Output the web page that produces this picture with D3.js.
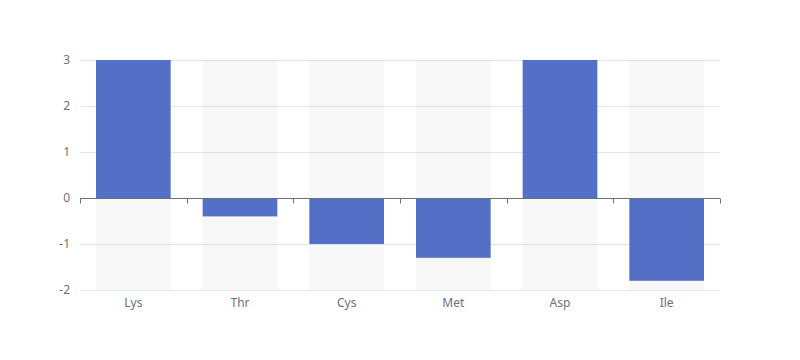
<!DOCTYPE html>
<html>
<head>
<meta charset="utf-8">
<script src="https://cdn.jsdelivr.net/npm/d3@7"></script>
<style>
  body { margin: 0; background: #fff; }
  text { font-family: "Noto Sans", "DejaVu Sans", sans-serif; }
</style>
</head>
<body>
<script>
// categories and values (Lys and Asp run past the axis max and get clipped)
var categories = ["Lys", "Thr", "Cys", "Met", "Asp", "Ile"];
var values = [3.6, -0.4, -1.0, -1.3, 3.8, -1.8];
var yTicks = [-2, -1, 0, 1, 2, 3];

var width = 800, height = 360;
var margin = {top: 60, right: 80, bottom: 70, left: 80};

var svg = d3.select("body").append("svg")
  .attr("width", width)
  .attr("height", height);

var x = d3.scaleBand()
  .domain(categories)
  .range([margin.left, width - margin.right]);

var y = d3.scaleLinear()
  .domain([-2, 3])
  .range([height - margin.bottom, margin.top]);

var barW = x.bandwidth() * 0.7;

// split lines
svg.selectAll(".grid")
  .data(yTicks)
  .enter().append("line")
  .attr("x1", margin.left)
  .attr("x2", width - margin.right)
  .attr("y1", function(d) { return Math.round(y(d)) + 0.5; })
  .attr("y2", function(d) { return Math.round(y(d)) + 0.5; })
  .attr("stroke", "#e0e6f1");

// bar backgrounds, see-through so the split lines still show
svg.selectAll(".bg")
  .data(categories)
  .enter().append("rect")
  .attr("x", function(d) { return x(d) + (x.bandwidth() - barW) / 2; })
  .attr("y", y(3))
  .attr("width", barW)
  .attr("height", y(-2) - y(3))
  .attr("fill", "rgba(180,180,180,0.1)");

svg.append("clipPath").attr("id", "clip")
  .append("rect")
  .attr("x", margin.left)
  .attr("y", margin.top)
  .attr("width", width - margin.left - margin.right)
  .attr("height", height - margin.top - margin.bottom);

// bars
svg.append("g").attr("clip-path", "url(#clip)")
  .selectAll("rect")
  .data(values)
  .enter().append("rect")
  .attr("x", function(d, i) { return x(categories[i]) + (x.bandwidth() - barW) / 2; })
  .attr("y", function(d) { return y(Math.max(0, d)); })
  .attr("width", barW)
  .attr("height", function(d) { return Math.abs(y(d) - y(0)); })
  .attr("fill", "#5470c6");

// y labels
svg.selectAll(".ylab")
  .data(yTicks)
  .enter().append("text")
  .attr("x", margin.left - 10)
  .attr("y", function(d) { return y(d); })
  .attr("dy", "0.35em")
  .attr("text-anchor", "end")
  .attr("font-size", 12)
  .attr("fill", "#6e7079")
  .text(function(d) { return d; });

// x axis on zero
var zeroY = Math.round(y(0)) + 0.5;
svg.append("line")
  .attr("x1", margin.left)
  .attr("x2", width - margin.right)
  .attr("y1", zeroY)
  .attr("y2", zeroY)
  .attr("stroke", "#6e7079");

var tickXs = categories.map(function(d) { return x(d); }).concat([width - margin.right]);
svg.selectAll(".tick")
  .data(tickXs)
  .enter().append("line")
  .attr("x1", function(d) { return Math.round(d) + 0.5; })
  .attr("x2", function(d) { return Math.round(d) + 0.5; })
  .attr("y1", zeroY)
  .attr("y2", zeroY + 5)
  .attr("stroke", "#6e7079");

// x labels below the grid
svg.selectAll(".xlab")
  .data(categories)
  .enter().append("text")
  .attr("x", function(d) { return x(d) + x.bandwidth() / 2; })
  .attr("y", y(-2) + 13)
  .attr("dy", "0.35em")
  .attr("text-anchor", "middle")
  .attr("font-size", 12)
  .attr("fill", "#6e7079")
  .text(function(d) { return d; });
</script>
</body>
</html>
